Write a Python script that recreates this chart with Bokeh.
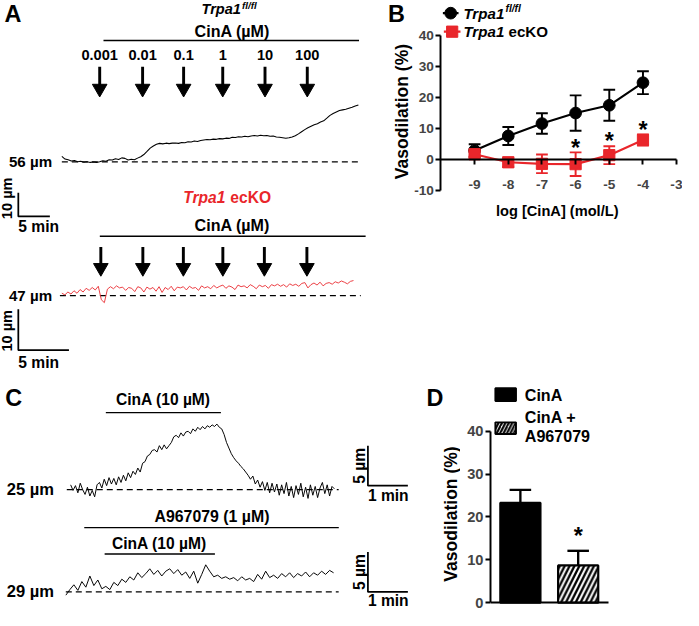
import numpy as np
from bokeh.plotting import figure
from bokeh.layouts import column, row
from bokeh.models import Range1d, FixedTicker
from bokeh.core.properties import value
from bokeh.embed import file_html
from bokeh.resources import INLINE

# ======================= DATA =======================
# Panel A, top: Trpa1 fl/fl artery, diameter (um) sampled every 0.5 min
A1_DT = 0.5
A1_DIAM = [58.3, 57.2, 56.9, 56.4, 56.6, 56.1, 56.3, 55.9, 56.1, 55.8,
           56.0, 55.8, 56.1, 56.5, 56.3, 56.9, 56.8, 57.3, 57.0, 57.7,
           57.5, 56.8, 57.1, 56.9, 57.6, 58.2, 59.1, 60.4, 61.8, 62.7,
           63.4, 63.8, 63.6, 63.9, 63.7, 63.9, 64.0, 63.8, 64.2, 64.1,
           64.5, 64.4, 64.8, 64.6, 65.0, 65.2, 65.4, 65.3, 65.6, 65.5,
           65.8, 65.7, 66.0, 65.9, 66.4, 66.3, 66.6, 66.5, 66.8, 66.6,
           66.9, 67.1, 66.9, 67.2, 67.0, 67.1, 66.8, 66.9, 66.5, 66.4,
           66.2, 66.0, 66.2, 66.5, 67.0, 67.8, 68.7, 69.6, 70.4, 71.0,
           71.6, 72.1, 72.8, 73.3, 74.4, 75.6, 76.4, 77.0, 77.6, 77.9,
           78.2, 78.6, 79.0, 79.5, 80.0]
A1_BASE = 56
A1_ADD_T = [6.0, 12.8, 19.3, 25.5, 32.2, 38.9]      # min, CinA additions
A1_CINA = (6.6, 47.1)                               # min, CinA period
CONC_LABELS = ["0.001", "0.01", "0.1", "1", "10", "100"]
A1_SCALE = (5, 10)                                  # min, um

# Panel A, bottom: Trpa1 ecKO artery, diameter (um) sampled every 0.3 min
A2_DT = 0.3
A2_DIAM = [47.6, 47.2, 47.9, 47.4, 48.2, 47.6, 48.5, 47.9, 48.8, 48.3,
           49.0, 48.4, 49.3, 46.0, 45.3, 48.6, 49.2, 48.7, 49.4, 48.9,
           49.1, 48.3, 49.0, 48.8, 48.0, 49.2, 48.9, 47.9, 49.1, 48.6,
           49.0, 48.1, 49.2, 47.8, 49.0, 48.5, 49.3, 48.2, 49.1, 48.9,
           49.2, 48.4, 49.3, 48.8, 49.0, 48.3, 49.4, 48.9, 49.2, 48.7,
           49.5, 48.9, 49.3, 49.6, 48.8, 49.4, 49.1, 48.5, 49.6, 49.2,
           49.4, 48.9, 49.7, 49.3, 48.7, 49.6, 49.2, 49.5, 48.8, 49.7,
           49.4, 49.8, 49.3, 49.7, 49.1, 49.9, 49.5, 49.8, 49.3, 50.0,
           50.2, 48.9, 49.7, 50.1, 49.6, 50.3, 49.4, 50.0, 50.2, 49.8,
           50.4, 50.1, 50.6, 50.3, 49.9, 50.5, 50.7]
A2_BASE = 47
A2_ADD_T = [3.85, 8.0, 12.0, 15.9, 20.0, 24.2]
A2_CINA = (3.75, 30.0)
A2_SCALE = (5, 10)

# Panel B: concentration-response
LOGC = [-9, -8, -7, -6, -5, -4]
FL_MEAN = [2.9, 7.6, 11.6, 15.0, 17.5, 24.8]
FL_SEM = [2.0, 2.9, 3.3, 5.7, 5.0, 3.7]
KO_MEAN = [1.7, -0.9, -1.4, -1.5, 1.4, 6.3]
KO_SEM = [1.0, 1.5, 3.0, 3.8, 2.9, 1.8]
B_SIG = [-6, -5, -4]
B_XTICKS = [-9, -8, -7, -6, -5, -4, -3]
B_YTICKS = [-10, 0, 10, 20, 30, 40]

# Panel C: example traces, diameter (um)
C1_DT = 0.06
C1_DIAM = [25.6, 24.9, 25.5, 24.6, 25.8, 25.0, 24.4, 25.3, 24.2, 24.9,
           24.1, 25.6, 25.9, 25.2, 26.3, 25.5, 26.5, 25.7, 26.4, 25.6,
           26.6, 25.9, 26.8, 26.1, 27.1, 26.5, 27.3, 26.9, 27.7, 27.2,
           28.3, 28.5, 29.2, 29.4, 29.9, 30.0, 29.7, 30.5, 30.0, 30.6,
           30.1, 30.5, 30.9, 31.6, 31.8, 31.5, 32.1, 31.7, 32.2, 32.3,
           32.0, 32.6, 32.3, 32.8, 32.5, 32.9, 32.6, 33.0, 32.8, 33.1,
           32.9, 33.2, 32.8, 32.6, 31.9, 30.9, 30.2, 29.5, 29.0, 28.6,
           28.3, 27.9, 27.6, 27.2, 26.8, 26.3, 26.7, 25.7, 26.2, 25.3,
           26.0, 24.9, 25.9, 24.6, 25.8, 24.7, 25.7, 24.3, 25.6, 24.5,
           25.9, 24.2, 25.4, 24.0, 25.5, 24.4, 25.8, 24.1, 25.3, 23.9,
           25.6, 24.3, 25.4, 24.0, 25.2, 25.9, 24.5, 25.6, 24.2, 25.4,
           25.1]
C1_BASE = 25
C1_CINA = (0.88, 3.76)
C2_T0 = -0.12
C2_DT = 0.1
C2_DIAM = [28.6, 29.3, 29.9, 29.2, 30.3, 29.6, 31.0, 29.8, 30.5, 29.4,
           29.7, 29.3, 30.2, 29.8, 30.6, 30.2, 30.9, 30.5, 31.4, 30.8,
           31.3, 31.9, 31.2, 31.7, 31.0, 31.6, 31.9, 31.3, 31.8, 31.1,
           31.5, 30.7, 31.6, 30.1, 31.2, 32.4, 31.6, 30.9, 31.1, 30.7,
           30.9, 30.6, 30.8, 30.4, 30.9, 30.5, 30.7, 30.3, 31.2, 30.6,
           31.6, 30.8, 31.1, 30.7, 31.3, 30.9, 31.4, 30.8, 31.3, 31.0,
           31.5, 30.9, 31.4, 31.1, 31.6, 31.2, 31.7, 31.4]
C2_BASE = 29
C2_A96 = (0.34, 6.71)
C2_CINA = (0.85, 3.61)
C_SCALE = (1, 5)

# Panel D: summary
D_X = [1, 2]
D_MEAN = [23.3, 8.7]
D_SEM = [3.0, 3.4]
D_YTICKS = [0, 10, 20, 30, 40]

# ======================= STYLE / LAYOUT =======================
S = 0.975
FONT = "Liberation Sans"
RED = "#e9262b"
SPLIT = 388            # reference-pixel row split
TOP_H, BOT_H = 378, 232


def px(v):
    return f"{v * S:.2f}px"


class M:
    """maps reference-pixel layout positions to a panel's data units"""
    def __init__(s, xr0, xv0, xppu, yr0, yv0, yppu):
        s.xr0, s.xv0, s.xppu, s.yr0, s.yv0, s.yppu = xr0, xv0, xppu, yr0, yv0, yppu

    def x(s, xr):
        return s.xv0 + (xr - s.xr0) / s.xppu

    def y(s, yr):
        return s.yv0 + (s.yr0 - yr) / s.yppu

    def dx(s, d):
        return d / s.xppu

    def dy(s, d):
        return d / s.yppu


MA1 = M(63, 0, 6.48, 165.7, A1_BASE, 2.44)
MA2 = M(63, 0, 10.4, 303, A2_BASE, 4.2)
MB = M(452, -10, 34.43, 36, 40, 3.18)
MC1 = M(72, 0, 41, 502, C1_BASE, 8.2)
MC2 = M(72, 0, 41, 607, C2_BASE, 8.2)
MD = M(503, 0.483, 59, 618, 0, 4.4)


def T(p, x, y, s, size, style="bold", align="center", base="middle", color="black",
      angle=0.0, xo=0.0, yo=0.0, **rn):
    xs = list(x) if isinstance(x, (list, tuple, np.ndarray)) else [x]
    ys = list(y) if isinstance(y, (list, tuple, np.ndarray)) else [y] * len(xs)
    ss = list(s) if isinstance(s, (list, tuple)) else [s] * len(xs)
    p.text(x=xs, y=ys, text=ss, text_font=value(FONT), text_font_size=px(size),
           text_font_style=style, text_align=align, text_baseline=base,
           text_color=color, angle=angle, x_offset=xo, y_offset=yo, **rn)


def bare(w, h, xr, yr):
    p = figure(width=w, height=h, x_range=xr, y_range=yr, output_backend="svg",
               toolbar_location=None, x_axis_location=None, y_axis_location=None,
               min_border=0)
    p.grid.visible = False
    p.outline_line_color = None
    return p


def style_axis(ax, size):
    ax.axis_line_width = 2 * S
    ax.major_tick_line_width = 2 * S
    ax.major_tick_out = 5
    ax.major_tick_in = 0
    ax.minor_tick_line_color = None
    ax.major_label_text_font = FONT
    ax.major_label_text_font_style = "bold"
    ax.major_label_text_font_size = px(size)
    ax.axis_label_text_font = FONT
    ax.axis_label_text_font_style = "bold"


def arrows(p, m, times, top_r, tip_r, **rn):
    size = 15
    n = len(times)
    c = m.y(tip_r - 0.577 * size)
    p.segment(x0=times, y0=[m.y(top_r)] * n, x1=times, y1=[c] * n,
              line_width=3 * S, line_color="black", **rn)
    p.scatter(x=times, y=[c] * n, marker="inverted_triangle", size=size * S,
              fill_color="black", line_color="black", **rn)


def scalebar(p, m, cx_r, cy_r, sc, **rn):
    cx, cy = m.x(cx_r), m.y(cy_r)
    p.line([cx, cx, cx + sc[0]], [cy + sc[1], cy, cy], line_width=1.8 * S,
           line_color="black", **rn)
    return cx, cy


# ---------------- Panel A ----------------
pA = bare(370, TOP_H, Range1d(MA1.x(0), MA1.x(380)), Range1d(MA1.y(SPLIT), MA1.y(0)))
pA.extra_x_ranges = {"a2x": Range1d(MA2.x(0), MA2.x(380))}
pA.extra_y_ranges = {"a2y": Range1d(MA2.y(SPLIT), MA2.y(0))}
R2 = dict(x_range_name="a2x", y_range_name="a2y")

T(pA, MA1.x(4), MA1.y(14), "A", 24, align="left")
T(pA, MA1.x(247), MA1.y(9), "Trpa1", 15, style="bold italic", align="right")
T(pA, MA1.x(248), MA1.y(5), "fl/fl", 10, style="bold italic", align="left")
T(pA, MA1.x(238), MA1.y(31), "CinA (µM)", 16.5)
pA.segment(x0=[A1_CINA[0]], y0=[MA1.y(41)], x1=[A1_CINA[1]], y1=[MA1.y(41)],
           line_width=1.4 * S, line_color="black")
T(pA, A1_ADD_T, MA1.y(56), CONC_LABELS, 15)
arrows(pA, MA1, A1_ADD_T, 68, 99)
a1_t = np.arange(len(A1_DIAM)) * A1_DT
pA.line([MA1.x(63), MA1.x(370)], [A1_BASE, A1_BASE], line_dash="6 4",
        line_width=1.3 * S, line_color="black")
pA.line(a1_t, A1_DIAM, line_width=1.1 * S, line_color="black")
T(pA, MA1.x(53), A1_BASE, f"{A1_BASE} µm", 15.5, align="right")
cx, cy = scalebar(pA, MA1, 18.3, 221.7, A1_SCALE)
T(pA, MA1.x(7), MA1.y(203), f"{A1_SCALE[1]} µm", 15, angle=np.pi / 2)
T(pA, cx, MA1.y(232), f"{A1_SCALE[0]} min", 16, align="left")

T(pA, MA2.x(231), MA2.y(202), "Trpa1", 16, style="bold italic", align="right",
  color=RED, **R2)
T(pA, MA2.x(236), MA2.y(202), "ecKO", 16, align="left", color=RED, **R2)
T(pA, MA2.x(238), MA2.y(230), "CinA (µM)", 16.5, **R2)
pA.segment(x0=[A2_CINA[0]], y0=[MA2.y(242)], x1=[A2_CINA[1]], y1=[MA2.y(242)],
           line_width=1.4 * S, line_color="black", **R2)
arrows(pA, MA2, A2_ADD_T, 253, 283, **R2)
a2_t = np.arange(len(A2_DIAM)) * A2_DT
pA.line([MA2.x(61), MA2.x(370)], [A2_BASE, A2_BASE], line_dash="6 4",
        line_width=1.3 * S, line_color="black", **R2)
pA.line(a2_t, A2_DIAM, line_width=0.9 * S, line_color=RED, **R2)
T(pA, MA2.x(53), A2_BASE, f"{A2_BASE} µm", 15.5, align="right", **R2)
cx, cy = scalebar(pA, MA2, 18.3, 359, A2_SCALE, **R2)
T(pA, MA2.x(7), MA2.y(339), f"{A2_SCALE[1]} µm", 15, angle=np.pi / 2, **R2)
T(pA, cx, MA2.y(372), f"{A2_SCALE[0]} min", 16, align="left", **R2)

# ---------------- Panel B ----------------
# frame spans the whole figure; both axes are pinned inside it
pB = figure(width=312, height=TOP_H, x_range=Range1d(MB.x(380), MB.x(699)),
            y_range=Range1d(MB.y(SPLIT), MB.y(0)), output_backend="svg",
            toolbar_location=None, min_border=0)
pB.grid.visible = False
pB.outline_line_color = None
style_axis(pB.xaxis[0], 14)
style_axis(pB.yaxis[0], 14)

xa = pB.xaxis[0]
xa.fixed_location = 0
xa.ticker = FixedTicker(ticks=B_XTICKS)
xa.bounds = (-10, -3)
xa.major_label_overrides = {t: str(t) for t in B_XTICKS}
xa.major_label_standoff = 16

ya = pB.yaxis[0]
ya.fixed_location = -10
ya.ticker = FixedTicker(ticks=B_YTICKS)
ya.bounds = (-10, 40)
ya.major_label_overrides = {t: str(t) for t in B_YTICKS}
ya.major_label_standoff = 2

T(pB, MB.x(412), MB.y(114), "Vasodilation (%)", 18, angle=np.pi / 2)
T(pB, MB.x(573), MB.y(216), "log  [CinA] (mol/L)", 15)
T(pB, MB.x(398), MB.y(13.5), "B", 24, align="left")

cap = MB.dx(6)


def errbars(p, xs, mean, sem, color, lw):
    lo = [m - s for m, s in zip(mean, sem)]
    hi = [m + s for m, s in zip(mean, sem)]
    p.segment(x0=xs, y0=lo, x1=xs, y1=hi, line_width=lw, line_color=color)
    p.segment(x0=[x - cap for x in xs], y0=hi, x1=[x + cap for x in xs], y1=hi,
              line_width=lw, line_color=color)
    p.segment(x0=[x - cap for x in xs], y0=lo, x1=[x + cap for x in xs], y1=lo,
              line_width=lw, line_color=color)


errbars(pB, LOGC, FL_MEAN, FL_SEM, "black", 2 * S)
pB.line(LOGC, FL_MEAN, line_width=2.2 * S, line_color="black")
pB.scatter(LOGC, FL_MEAN, marker="circle", size=12 * S, color="black")
errbars(pB, LOGC, KO_MEAN, KO_SEM, RED, 2 * S)
pB.line(LOGC, KO_MEAN, line_width=2.2 * S, line_color=RED)
pB.scatter(LOGC, KO_MEAN, marker="square", size=11.5 * S, color=RED)

sig_top = [KO_MEAN[LOGC.index(c)] + KO_SEM[LOGC.index(c)] for c in B_SIG]
T(pB, B_SIG, [v + MB.dy(9) for v in sig_top], "*", 24, base="alphabetic", yo=4)

# legend
pB.segment(x0=[MB.x(454)], y0=[MB.y(13)], x1=[MB.x(470)], y1=[MB.y(13)],
           line_width=2.2 * S, line_color="black")
pB.scatter([MB.x(462)], [MB.y(13)], marker="circle", size=12 * S, color="black")
pB.segment(x0=[MB.x(455)], y0=[MB.y(32)], x1=[MB.x(472)], y1=[MB.y(32)],
           line_width=2.2 * S, line_color=RED)
pB.scatter([MB.x(463.5)], [MB.y(32)], marker="square", size=11.5 * S, color=RED)
wT = 2.72 * 15.5 * S
T(pB, MB.x(475), MB.y(13), "Trpa1", 15.5, style="bold italic", align="left")
T(pB, MB.x(475), MB.y(13), "fl/fl", 10.5, style="bold italic", align="left",
  xo=wT + 1, yo=-5)
T(pB, MB.x(475), MB.y(32), "Trpa1", 15.5, style="bold italic", align="left")
T(pB, MB.x(475), MB.y(32), "ecKO", 15.5, align="left", xo=wT + 4)

# ---------------- Panel C ----------------
pC = bare(460, BOT_H, Range1d(MC1.x(0), MC1.x(472)), Range1d(MC1.y(626), MC1.y(SPLIT)))
pC.extra_y_ranges = {"c2y": Range1d(MC2.y(626), MC2.y(SPLIT))}
RC2 = dict(y_range_name="c2y")

T(pC, MC1.x(5), MC1.y(408), "C", 24, align="left")
T(pC, MC1.x(167), MC1.y(410), "CinA (10 µM)", 16)
pC.segment(x0=[C1_CINA[0]], y0=[MC1.y(423)], x1=[C1_CINA[1]], y1=[MC1.y(423)],
           line_width=1.4 * S, line_color="black")
c1_t = np.arange(len(C1_DIAM)) * C1_DT
pC.line([MC1.x(68), MC1.x(347)], [C1_BASE, C1_BASE], line_dash="6 4",
        line_width=1.3 * S, line_color="black")
pC.line(c1_t, C1_DIAM, line_width=1.0 * S, line_color="black")
T(pC, MC1.x(55), C1_BASE, f"{C1_BASE} µm", 17, align="right")
cx, cy = scalebar(pC, MC1, 377, 498, C_SCALE)
T(pC, MC1.x(368), cy + C_SCALE[1] / 2, f"{C_SCALE[1]} µm", 16, angle=np.pi / 2)
T(pC, cx, MC1.y(508), f"{C_SCALE[0]} min", 16, align="left")

T(pC, MC2.x(217), MC2.y(530), "A967079 (1 µM)", 16.3, **RC2)
pC.segment(x0=[C2_A96[0]], y0=[MC2.y(541)], x1=[C2_A96[1]], y1=[MC2.y(541)],
           line_width=1.4 * S, line_color="black", **RC2)
T(pC, MC2.x(163), MC2.y(557), "CinA (10 µM)", 16, **RC2)
pC.segment(x0=[C2_CINA[0]], y0=[MC2.y(568)], x1=[C2_CINA[1]], y1=[MC2.y(568)],
           line_width=1.4 * S, line_color="black", **RC2)
c2_t = C2_T0 + np.arange(len(C2_DIAM)) * C2_DT
pC.line([MC2.x(67), MC2.x(347)], [C2_BASE, C2_BASE], line_dash="6 4",
        line_width=1.3 * S, line_color="black", **RC2)
pC.line(c2_t, C2_DIAM, line_width=1.0 * S, line_color="black", **RC2)
T(pC, MC2.x(55), C2_BASE, f"{C2_BASE} µm", 17, align="right", **RC2)
cx, cy = scalebar(pC, MC2, 377, 607, C_SCALE, **RC2)
T(pC, MC2.x(368), cy + C_SCALE[1] / 2, f"{C_SCALE[1]} µm", 16, angle=np.pi / 2, **RC2)
T(pC, cx, MC2.y(616), f"{C_SCALE[0]} min", 16, align="left", **RC2)

# panel D letter and its y-axis title sit left of D's frame
T(pC, MC1.x(437), MC1.y(408), "D", 24, align="left")
T(pC, MC1.x(462), MC1.y(527), "Vasodilation (%)", 18, angle=np.pi / 2)

# ---------------- Panel D ----------------
pD = figure(width=222, height=BOT_H, x_range=Range1d(MD.x(503), MD.x(699)),
            y_range=Range1d(MD.y(626), MD.y(SPLIT)), output_backend="svg",
            toolbar_location=None, min_border_left=30, min_border_right=0,
            min_border_top=0, min_border_bottom=0)
pD.grid.visible = False
pD.outline_line_color = None
style_axis(pD.xaxis[0], 15)
style_axis(pD.yaxis[0], 15)
dxa = pD.xaxis[0]
dxa.fixed_location = 0
dxa.ticker = FixedTicker(ticks=[])
dxa.major_tick_out = 0
dxa.major_label_standoff = 0
dxa.bounds = (MD.x(503), MD.x(623))
dya = pD.yaxis[0]
dya.ticker = FixedTicker(ticks=D_YTICKS)
dya.bounds = (0, 40)
dya.major_label_standoff = 2

bw = MD.dx(41)
pD.vbar(x=D_X, top=D_MEAN, bottom=0, width=bw, fill_color=["black", "white"],
        line_color="black", line_width=2.2 * S, hatch_pattern=[" ", "/"],
        hatch_color="black", hatch_weight=2.4 * S, hatch_scale=10 * S)
dtop = [m + s for m, s in zip(D_MEAN, D_SEM)]
dcap = MD.dx(11)
pD.segment(x0=D_X, y0=D_MEAN, x1=D_X, y1=dtop, line_width=2.4 * S, line_color="black")
pD.segment(x0=[x - dcap for x in D_X], y0=dtop, x1=[x + dcap for x in D_X], y1=dtop,
           line_width=2.4 * S, line_color="black")
T(pD, [D_X[1]], [dtop[1] + MD.dy(19)], "*", 24, base="alphabetic", yo=4)

# legend
pD.quad(left=[MD.x(508)], right=[MD.x(529)], top=[MD.y(398)], bottom=[MD.y(411)],
        fill_color="black", line_color="black", line_width=2 * S)
pD.quad(left=[MD.x(508)], right=[MD.x(529)], top=[MD.y(433)], bottom=[MD.y(445)],
        fill_color="white", line_color="black", line_width=2 * S,
        hatch_pattern="/", hatch_color="black", hatch_weight=2.2 * S, hatch_scale=7 * S)
T(pD, MD.x(538), MD.y(405), "CinA", 16.5, align="left")
T(pD, MD.x(538), MD.y(428), "CinA +", 16.5, align="left")
T(pD, MD.x(538), MD.y(447), "A967079", 16.5, align="left")

layout = column(row(pA, pB), row(pC, pD))
open("out.html", "w").write(file_html(layout, INLINE, "Figure"))
